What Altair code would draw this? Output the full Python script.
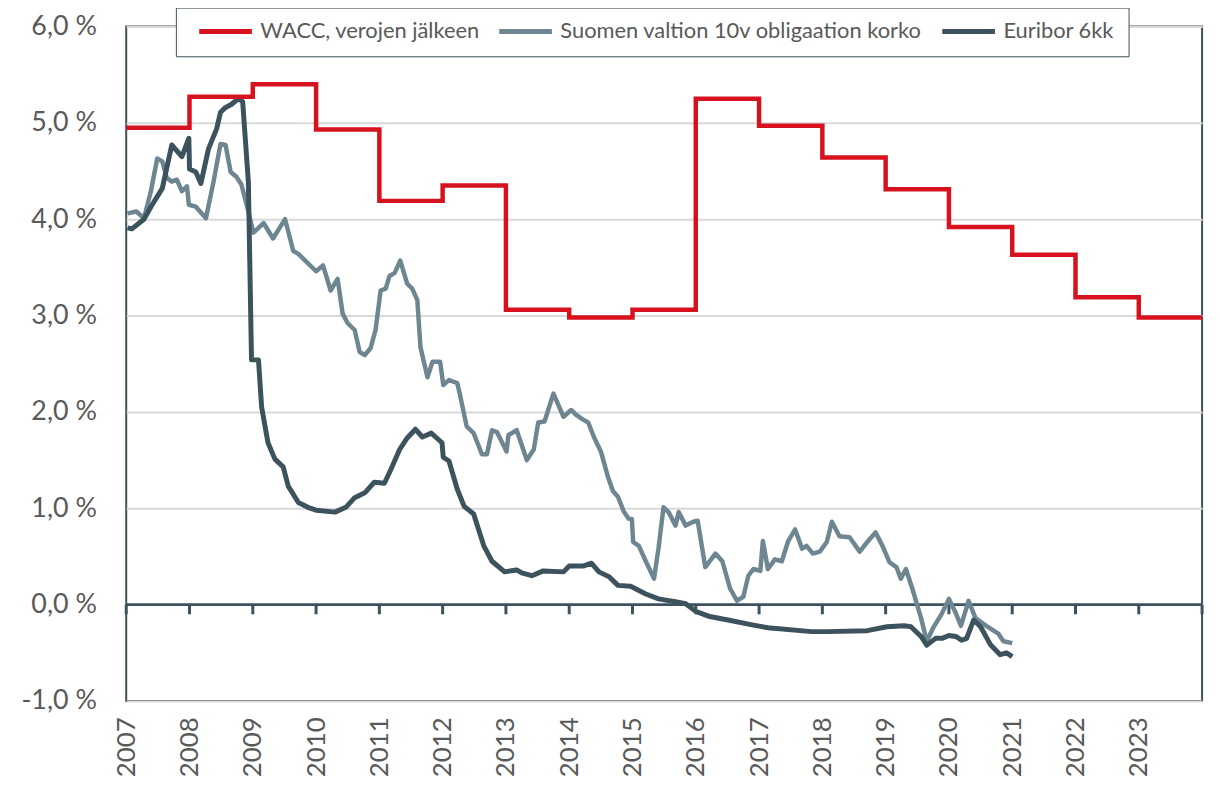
import altair as alt
import pandas as pd

# ---- data ----
wacc_year = [2007, 2008, 2009, 2010, 2011, 2012, 2013, 2014, 2015, 2016,
             2017, 2018, 2019, 2020, 2021, 2022, 2023, 2024]
wacc_value = [4.95, 5.27, 5.40, 4.93, 4.19, 4.35, 3.06, 2.98, 3.06, 5.25,
              4.97, 4.64, 4.31, 3.92, 3.63, 3.19, 2.98, 2.98]

bond_t = [2007.02, 2007.16, 2007.28, 2007.39, 2007.49, 2007.57, 2007.64, 2007.72, 2007.80, 2007.88,
          2007.96, 2007.99, 2008.10, 2008.26, 2008.38, 2008.49, 2008.57, 2008.65, 2008.74, 2008.82,
          2008.93, 2009.01, 2009.17, 2009.32, 2009.51, 2009.64, 2009.72, 2010.00, 2010.11, 2010.23,
          2010.34, 2010.42, 2010.50, 2010.61, 2010.69, 2010.77, 2010.86, 2010.94, 2011.02, 2011.10,
          2011.16, 2011.24, 2011.33, 2011.44, 2011.52, 2011.60, 2011.65, 2011.76, 2011.84, 2011.96,
          2012.01, 2012.10, 2012.23, 2012.27, 2012.38, 2012.49, 2012.62, 2012.70, 2012.78, 2012.86,
          2013.01, 2013.04, 2013.17, 2013.33, 2013.44, 2013.51, 2013.61, 2013.75, 2013.91, 2014.03,
          2014.11, 2014.22, 2014.30, 2014.39, 2014.50, 2014.61, 2014.69, 2014.77, 2014.86, 2014.94,
          2014.99, 2015.01, 2015.10, 2015.21, 2015.34, 2015.41, 2015.49, 2015.57, 2015.68, 2015.73,
          2015.84, 2015.96, 2016.03, 2016.15, 2016.31, 2016.42, 2016.54, 2016.65, 2016.75, 2016.83,
          2016.91, 2017.02, 2017.06, 2017.14, 2017.25, 2017.36, 2017.46, 2017.57, 2017.68, 2017.75,
          2017.85, 2017.96, 2018.07, 2018.15, 2018.27, 2018.43, 2018.59, 2018.71, 2018.84, 2018.95,
          2019.06, 2019.17, 2019.24, 2019.32, 2019.42, 2019.56, 2019.65, 2019.76, 2019.89, 2020.00,
          2020.11, 2020.19, 2020.31, 2020.42, 2020.59, 2020.78, 2020.86, 2021.00]
bond_value = [4.06, 4.08, 4.01, 4.29, 4.63, 4.60, 4.43, 4.39, 4.41, 4.29,
              4.34, 4.15, 4.13, 4.01, 4.39, 4.78, 4.77, 4.49, 4.44, 4.36,
              4.08, 3.86, 3.96, 3.80, 4.00, 3.67, 3.64, 3.46, 3.52, 3.26,
              3.38, 3.02, 2.92, 2.85, 2.62, 2.59, 2.66, 2.85, 3.26, 3.28,
              3.41, 3.44, 3.57, 3.33, 3.28, 3.16, 2.67, 2.36, 2.52, 2.52,
              2.28, 2.33, 2.30, 2.19, 1.85, 1.78, 1.56, 1.56, 1.81, 1.79,
              1.59, 1.76, 1.81, 1.50, 1.61, 1.89, 1.90, 2.19, 1.95, 2.02,
              1.97, 1.92, 1.89, 1.74, 1.59, 1.33, 1.18, 1.12, 0.97, 0.89,
              0.89, 0.65, 0.61, 0.45, 0.27, 0.58, 1.01, 0.96, 0.82, 0.96,
              0.82, 0.86, 0.87, 0.39, 0.53, 0.45, 0.17, 0.04, 0.08, 0.30,
              0.37, 0.35, 0.66, 0.37, 0.47, 0.45, 0.66, 0.78, 0.58, 0.61,
              0.53, 0.55, 0.65, 0.86, 0.71, 0.70, 0.55, 0.65, 0.75, 0.61,
              0.44, 0.39, 0.27, 0.37, 0.17, -0.14, -0.38, -0.23, -0.09, 0.06,
              -0.09, -0.22, 0.04, -0.14, -0.22, -0.30, -0.38, -0.40]

euribor_t = [2007.02, 2007.09, 2007.28, 2007.41, 2007.57, 2007.72, 2007.88, 2007.99, 2008.00, 2008.10,
             2008.18, 2008.30, 2008.43, 2008.49, 2008.57, 2008.66, 2008.77, 2008.84, 2008.93, 2008.98,
             2009.09, 2009.14, 2009.24, 2009.35, 2009.48, 2009.56, 2009.72, 2009.87, 2010.00, 2010.30,
             2010.47, 2010.61, 2010.77, 2010.92, 2011.08, 2011.18, 2011.32, 2011.44, 2011.57, 2011.68,
             2011.82, 2011.99, 2012.01, 2012.10, 2012.23, 2012.34, 2012.49, 2012.65, 2012.78, 2012.98,
             2013.17, 2013.25, 2013.41, 2013.59, 2013.91, 2014.00, 2014.22, 2014.35, 2014.47, 2014.63,
             2014.77, 2014.97, 2015.21, 2015.41, 2015.68, 2015.84, 2016.00, 2016.20, 2016.51, 2016.89,
             2017.14, 2017.83, 2018.08, 2018.71, 2019.02, 2019.29, 2019.40, 2019.56, 2019.65, 2019.79,
             2019.89, 2020.00, 2020.11, 2020.20, 2020.28, 2020.39, 2020.50, 2020.66, 2020.81, 2020.91,
             2021.00]
euribor_value = [3.91, 3.90, 4.00, 4.15, 4.32, 4.77, 4.65, 4.84, 4.52, 4.49,
                 4.37, 4.73, 4.94, 5.11, 5.16, 5.19, 5.25, 5.22, 4.39, 2.54,
                 2.54, 2.05, 1.68, 1.51, 1.43, 1.23, 1.06, 1.01, 0.98, 0.96,
                 1.01, 1.11, 1.16, 1.27, 1.26, 1.40, 1.61, 1.73, 1.82, 1.74,
                 1.78, 1.68, 1.53, 1.49, 1.20, 1.02, 0.94, 0.61, 0.45, 0.34,
                 0.36, 0.33, 0.30, 0.35, 0.34, 0.40, 0.40, 0.43, 0.34, 0.29,
                 0.20, 0.19, 0.11, 0.06, 0.03, 0.01, -0.07, -0.12, -0.16, -0.21,
                 -0.24, -0.28, -0.28, -0.27, -0.23, -0.22, -0.23, -0.33, -0.42, -0.35,
                 -0.35, -0.32, -0.33, -0.37, -0.35, -0.16, -0.23, -0.42, -0.52, -0.50,
                 -0.54]

series_names = ["WACC, verojen jälkeen",
                "Suomen valtion 10v obligaation korko",
                "Euribor 6kk"]
series_colors = ["#D5121E", "#6E8592", "#3C525D"]
tick_years = list(range(2007, 2025))

FONT = "Lato"
AXIS_C = "#3E525D"
TEXT_C = "#595959"

wacc_df = pd.DataFrame({"t": wacc_year, "v": wacc_value, "s": series_names[0]})
bond_df = pd.DataFrame({"t": bond_t, "v": bond_value, "s": series_names[1]})
eur_df = pd.DataFrame({"t": euribor_t, "v": euribor_value, "s": series_names[2]})
ticks_df = pd.DataFrame({"t": tick_years, "y0": 0.0, "y1": -0.1})
zero_df = pd.DataFrame({"t": [tick_years[0]], "t2": [tick_years[-1]], "y": [0.0]})

x_scale = alt.Scale(domain=[2007, 2024], nice=False, zero=False)
y_scale = alt.Scale(domain=[-1, 6], nice=False, zero=False)

x_axis = alt.Axis(values=tick_years[:-1], format="d", labelAngle=-90, labelFontSize=26,
                  labelColor=TEXT_C, labelFont=FONT, labelPadding=16, ticks=False,
                  domain=False, grid=False, title=None)
y_axis = alt.Axis(values=list(range(-1, 7)), labelFontSize=27, labelColor=TEXT_C, labelFont=FONT,
                  labelExpr="replace(replace(format(datum.value, '.1f'), '.', ','), '\u2212', '-') + ' %'",
                  labelPadding=30, ticks=False, domain=False, grid=True,
                  gridColor="#D9D9D9", gridWidth=2, title=None)

color = alt.Color("s:N", scale=alt.Scale(domain=series_names, range=series_colors),
                  legend=alt.Legend(orient="none", legendX=50, legendY=-19, direction="horizontal",
                                    title=None, symbolType="stroke", symbolStrokeWidth=5,
                                    symbolSize=2809, labelFontSize=22, labelFont=FONT,
                                    labelColor=TEXT_C, labelLimit=600, fillColor="white",
                                    strokeColor=AXIS_C, padding=14, columnPadding=10,
                                    labelOffset=6, clipHeight=20, symbolOffset=7))

base_x = alt.X("t:Q", scale=x_scale, axis=x_axis)
base_y = alt.Y("v:Q", scale=y_scale, axis=y_axis)

zero_rule = alt.Chart(zero_df).mark_rule(color=AXIS_C, strokeWidth=3).encode(
    x=alt.X("t:Q", scale=x_scale, axis=x_axis), x2="t2:Q",
    y=alt.Y("y:Q", scale=y_scale, axis=y_axis))
tick_marks = alt.Chart(ticks_df).mark_rule(color=AXIS_C, strokeWidth=3).encode(
    x=alt.X("t:Q", scale=x_scale, axis=x_axis),
    y=alt.Y("y0:Q", scale=y_scale, axis=y_axis), y2="y1:Q")

bond_line = alt.Chart(bond_df).mark_line(strokeWidth=4.5, strokeJoin="round").encode(
    x=base_x, y=base_y, color=color)
eur_line = alt.Chart(eur_df).mark_line(strokeWidth=5, strokeJoin="round").encode(
    x=base_x, y=base_y, color=color)
wacc_line = alt.Chart(wacc_df).mark_line(strokeWidth=4.5, interpolate="step-after").encode(
    x=base_x, y=base_y, color=color)

chart = alt.layer(zero_rule, tick_marks, bond_line, eur_line, wacc_line).properties(
    width=1083, height=679,
    padding={"left": 119, "top": 16, "right": 10, "bottom": 86},
    autosize=alt.AutoSizeParams(type="none"),
    background="white",
).configure_view(stroke=AXIS_C, strokeWidth=2)

chart.save("out.html", embed_options={"renderer": "svg", "actions": False})
